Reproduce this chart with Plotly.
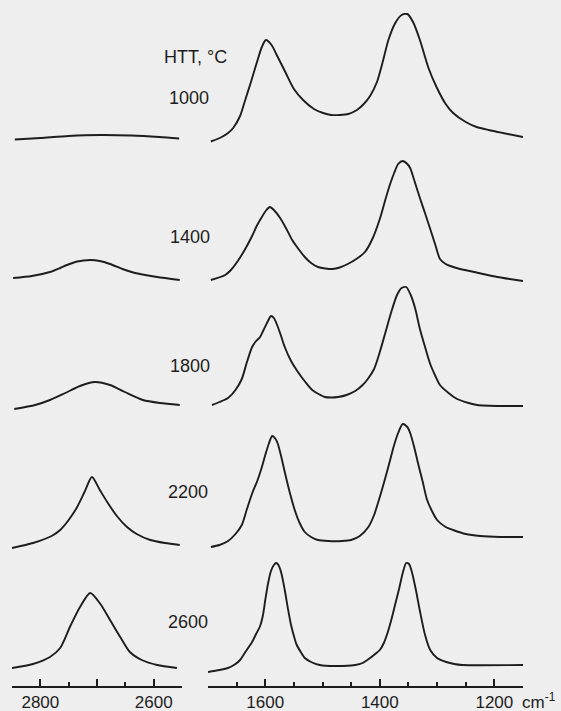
import plotly.graph_objects as go

# ---------------- data ----------------
htt_labels = ["1000", "1400", "1800", "2200", "2600"]

# second-order region (2850-2550 cm-1): wavenumbers and relative intensities
wn_2d_1000 = [2845, 2800, 2750, 2695, 2640, 2590, 2555]
int_2d_1000 = [0.5, 2, 4, 5, 4.5, 3, 1.5]

wn_2d_1400 = [2848, 2815, 2783, 2765, 2753, 2735, 2712, 2695, 2677, 2655, 2636, 2615, 2594, 2554]
int_2d_1400 = [3, 5, 9, 13, 16, 19.5, 21, 20, 17, 12, 8.5, 6, 4, 1]

wn_2d_1800 = [2846, 2809, 2783, 2756, 2730, 2704, 2677, 2651, 2619, 2589, 2554]
int_2d_1800 = [-2, 2, 7, 14, 21, 25, 22, 15, 7, 4, 2]

wn_2d_2200 = [2850, 2813, 2780, 2765, 2750, 2735, 2722, 2709, 2695, 2682, 2665, 2647, 2630, 2606, 2580, 2554]
int_2d_2200 = [-1, 4, 11, 17, 27, 40, 55, 70, 57, 45, 31, 20, 13, 7, 4, 2]

wn_2d_2600 = [2850, 2813, 2783, 2765, 2747, 2730, 2712, 2694, 2677, 2659, 2642, 2621, 2594, 2559]
int_2d_2600 = [2, 6, 13, 22, 44, 63, 77, 66, 50, 33, 18, 10, 5, 2]

# first-order region (1700-1150 cm-1)
wn_1_1000 = [1695, 1676, 1665, 1656, 1644, 1635, 1625, 1615, 1606, 1599, 1589, 1580, 1565, 1550,
             1534, 1515, 1499, 1485, 1470, 1455, 1440, 1428, 1417, 1405, 1395, 1385, 1373, 1362,
             1352, 1342, 1330, 1315, 1301, 1285, 1272, 1250, 1231, 1210, 1185, 1150]
int_1_1000 = [-1.5, 3, 7, 12, 24, 40, 58, 77, 93, 100, 95, 85, 68, 51,
              40, 31, 27, 25, 25, 26, 30, 36, 44, 58, 78, 100, 117, 125,
              126, 118, 100, 72, 53, 36, 27, 18, 13, 10, 7, 3]

wn_1_1400 = [1695, 1670, 1660, 1648, 1635, 1623, 1615, 1606, 1598, 1592, 1585, 1574, 1563, 1553,
             1542, 1531, 1520, 1508, 1495, 1483, 1470, 1456, 1441, 1426, 1413, 1400, 1390, 1382,
             1375, 1368, 1360, 1352, 1347, 1340, 1330, 1320, 1312, 1303, 1295, 1285, 1277, 1260,
             1243, 1220, 1195, 1150]
int_1_1400 = [1, 6, 11, 20, 32, 45, 55, 64, 71, 74, 71, 63, 52, 41,
              32, 24, 18, 14, 12.5, 12, 13.5, 17, 22, 29, 42, 62, 82, 97,
              108, 117, 120, 117, 113, 101, 83, 66, 52, 36, 22, 17, 15, 12,
              10, 7, 4, 0]

wn_1_1800 = [1693, 1680, 1665, 1652, 1641, 1632, 1623, 1616, 1609, 1603, 1597, 1590, 1585, 1580,
             1573, 1566, 1555, 1543, 1530, 1518, 1507, 1496, 1484, 1473, 1458, 1443, 1430, 1421,
             1410, 1400, 1390, 1380, 1370, 1362, 1354, 1346, 1338, 1330, 1320, 1312, 1303, 1295,
             1280, 1265, 1245, 1230, 1185, 1150]
int_1_1800 = [2, 5, 9, 17, 28, 45, 60, 66, 70, 77, 84, 91, 89, 83,
              72, 60, 46, 35, 25, 17, 13, 10, 9.5, 10, 12, 16, 22, 28,
              38, 55, 75, 95, 112, 119, 120, 112, 98, 78, 58, 43, 31, 22,
              14, 8, 4, 2, 1, 1]

wn_1_2200 = [1695, 1680, 1665, 1652, 1641, 1632, 1622, 1614, 1607, 1600, 1594, 1588, 1582, 1578,
             1572, 1566, 1557, 1548, 1540, 1531, 1520, 1508, 1490, 1466, 1450, 1435, 1420, 1410,
             1400, 1390, 1382, 1375, 1368, 1360, 1352, 1347, 1340, 1333, 1325, 1318, 1309, 1300,
             1285, 1272, 1250, 1225, 1190, 1150]
int_1_2200 = [0, 2, 6, 13, 22, 38, 55, 66, 78, 92, 103, 111, 108, 103,
              90, 75, 54, 36, 24, 15, 10, 7, 6, 6, 7, 11, 20, 32,
              50, 70, 87, 102, 114, 123, 120, 114, 100, 83, 65, 48, 36, 27,
              20, 17, 13, 11, 10, 10]

wn_1_2600 = [1700, 1680, 1665, 1652, 1644, 1637, 1630, 1623, 1616, 1609, 1604, 1600, 1595, 1590,
             1585, 1581, 1577, 1572, 1566, 1560, 1555, 1549, 1545, 1538, 1531, 1520, 1505, 1478,
             1443, 1430, 1417, 1408, 1400, 1393, 1386, 1380, 1373, 1366, 1360, 1354, 1349, 1344,
             1337, 1330, 1321, 1312, 1300, 1284, 1270, 1256, 1150]
int_1_2600 = [-2, 0, 2, 6, 10, 16, 22, 28, 36, 44, 55, 70, 87, 99,
              105, 107, 105, 97, 80, 60, 45, 32, 25, 18, 12, 8, 5, 4,
              5, 7, 12, 16, 20, 27, 38, 50, 66, 82, 97, 107, 106, 98,
              80, 59, 35, 20, 12, 8, 6, 5, 5]

left_label_ticks = [2800, 2600]
left_unlabeled_major = [2700]
right_tick_vals = [1600, 1400, 1200]
right_tick_text = ["1600", "1400", "1200"]

# ---------------- layout constants ----------------
W, H = 561, 711
AXIS_Y = 686                      # pixel row of the axis lines
row_baseline_px = [140, 281, 407, 547, 670]   # pixel row of each spectrum's baseline
label_px = [(189, 98), (190, 237), (190, 366), (188, 492), (188, 622)]
INK = "#1d1d1d"
BG = "#eeeeee"
FONT = "Liberation Sans, Arial, Helvetica, sans-serif"

left_sets = [(wn_2d_1000, int_2d_1000), (wn_2d_1400, int_2d_1400), (wn_2d_1800, int_2d_1800),
             (wn_2d_2200, int_2d_2200), (wn_2d_2600, int_2d_2600)]
right_sets = [(wn_1_1000, int_1_1000), (wn_1_1400, int_1_1400), (wn_1_1800, int_1_1800),
              (wn_1_2200, int_1_2200), (wn_1_2600, int_1_2600)]

fig = go.Figure()
for i in range(5):
    base = AXIS_Y - row_baseline_px[i]
    for (wn, inten), xa in ((left_sets[i], "x"), (right_sets[i], "x2")):
        fig.add_trace(go.Scatter(
            x=wn, y=[base + v for v in inten], xaxis=xa, yaxis="y",
            mode="lines", line=dict(color=INK, width=1.9, shape="spline", smoothing=0.7),
            showlegend=False, hoverinfo="skip"))

axis_common = dict(
    showline=True, linecolor=INK, linewidth=1.6, showgrid=False, zeroline=False,
    ticks="inside", ticklen=7, tickwidth=1.5, tickcolor=INK, automargin=False,
    tickfont=dict(family=FONT, size=17, color=INK), anchor="y",
)

LEFT_DOM = [12 / W, 182 / W]
fig.update_layout(
    width=W, height=H, margin=dict(l=0, r=0, t=0, b=0),
    template="none", paper_bgcolor=BG, plot_bgcolor=BG, showlegend=False,
    xaxis=dict(domain=LEFT_DOM, range=[2850, 2550],
               tickmode="array", tickvals=left_label_ticks,
               ticktext=[str(v) for v in left_label_ticks],
               minor=dict(ticks="inside", ticklen=4, tickwidth=1.5, tickcolor=INK,
                          tickmode="array", tickvals=[2850, 2750, 2650, 2550]),
               **axis_common),
    # companion axis carrying the unlabeled 2700 major tick
    xaxis3=dict(domain=LEFT_DOM, range=[2850, 2550], overlaying="x", anchor="y",
                showline=False, showgrid=False, zeroline=False, showticklabels=False,
                ticks="inside", ticklen=7, tickwidth=1.5, tickcolor=INK,
                tickmode="array", tickvals=left_unlabeled_major, automargin=False),
    xaxis2=dict(domain=[208 / W, 523 / W], range=[1700, 1150],
                tickmode="array", tickvals=right_tick_vals, ticktext=right_tick_text,
                minor=dict(ticks="inside", ticklen=4, tickwidth=1.5, tickcolor=INK,
                           tickmode="array",
                           tickvals=[1700, 1650, 1550, 1500, 1450, 1350, 1300, 1250, 1150]),
                **axis_common),
    yaxis=dict(domain=[(H - AXIS_Y) / H, 1], range=[0, AXIS_Y], visible=False,
               fixedrange=True),
)
# an invisible point so the companion axis is drawn
fig.add_trace(go.Scatter(x=[2700], y=[0], xaxis="x3", yaxis="y", mode="markers",
                         marker=dict(size=1, opacity=0), showlegend=False, hoverinfo="skip"))

ann_font = dict(family=FONT, size=18, color=INK)
fig.add_annotation(x=195 / W, y=1 - 57 / H, xref="paper", yref="paper", text="HTT, °C",
                   showarrow=False, font=ann_font, xanchor="center", yanchor="middle")
for (px, py), lab in zip(label_px, htt_labels):
    fig.add_annotation(x=px / W, y=1 - py / H, xref="paper", yref="paper", text=lab,
                       showarrow=False, font=ann_font, xanchor="center", yanchor="middle")
fig.add_annotation(x=520 / W, y=1 - 701 / H, xref="paper", yref="paper", text="cm<sup>-1</sup>",
                   showarrow=False, font=dict(family=FONT, size=17, color=INK),
                   xanchor="left", yanchor="middle")

fig.write_html("out.html")
